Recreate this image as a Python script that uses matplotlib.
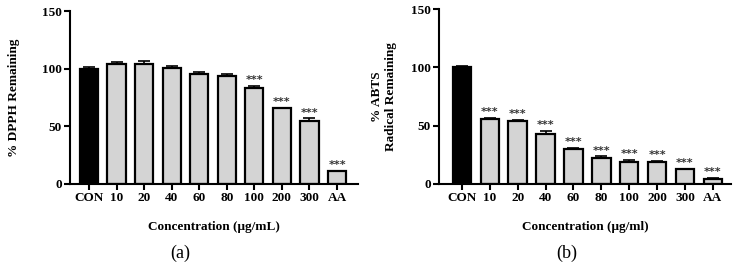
import matplotlib
matplotlib.use('Agg')
import matplotlib.pyplot as plt
import numpy as np

plt.rcParams['font.family'] = ['Liberation Serif', 'DejaVu Serif']

cats = ['CON', '10', '20', '40', '60', '80', '100', '200', '300', 'AA']

dpph = [100, 104, 104, 100.5, 95, 93.5, 83, 65.5, 55, 11]
dpph_err = [1.5, 2, 2.5, 1.5, 2, 1.5, 2, 0.8, 2, 0.6]
dpph_sig = ['', '', '', '', '', '', '***', '***', '***', '***']

abts = [100, 55.5, 54.3, 42.8, 30, 22.3, 19, 18.6, 12.6, 4.6]
abts_err = [1.5, 1, 0.8, 3, 1, 1.3, 1.8, 1.5, 0.6, 0.6]
abts_sig = ['', '***', '***', '***', '***', '***', '***', '***', '***', '***']

fig = plt.figure(figsize=(7.39, 2.67), dpi=100)
ax1 = fig.add_axes([70/739, 83/267, 288/739, 173/267])
ax2 = fig.add_axes([439/739, 83/267, 292/739, 175/267])


def panel(ax, vals, err, sig, ylab, xlab, xlim, ylpad):
    x = np.arange(len(cats))
    colors = ['black'] + ['#d4d4d4'] * (len(cats) - 1)
    ax.bar(x, vals, width=0.66, color=colors, edgecolor='black', linewidth=1.6, zorder=2)
    ax.errorbar(x, vals, yerr=[np.zeros(len(vals)), err], fmt='none', ecolor='black',
                elinewidth=1.2, capsize=4, capthick=1.2, zorder=1)
    for xi, v, e, s in zip(x, vals, err, sig):
        if s:
            ax.text(xi, v + e + 0.5, s, ha='center', va='bottom', fontsize=8,
                    family='DejaVu Sans', fontweight='bold', color='#333333')
    ax.set_ylim(0, 150)
    ax.set_xlim(*xlim)
    ax.set_yticks([0, 50, 100, 150])
    ax.set_xticks(x)
    ax.set_xticklabels(cats, fontweight='bold', fontsize=9.5)
    for t in ax.get_yticklabels():
        t.set_fontweight('bold')
        t.set_fontsize(9.5)
    ax.spines['top'].set_visible(False)
    ax.spines['right'].set_visible(False)
    ax.spines['left'].set_linewidth(1.5)
    ax.spines['bottom'].set_linewidth(1.5)
    ax.tick_params(width=1.5, length=4, pad=2)
    ax.set_ylabel(ylab, fontweight='bold', fontsize=9.5, labelpad=ylpad)
    ax.set_xlabel(xlab, fontweight='bold', fontsize=9.5, labelpad=12)


panel(ax1, dpph, dpph_err, dpph_sig, '% DPPH Remaining', 'Concentration (μg/mL)', (-0.69, 9.76), 16)
panel(ax2, abts, abts_err, abts_sig, '% ABTS\nRadical Remaining', 'Concentration (μg/ml)', (-0.82, 9.65), 10)

fig.text(180/739, 1 - 253/267, '(a)', ha='center', va='center', fontsize=13)
fig.text(567/739, 1 - 253/267, '(b)', ha='center', va='center', fontsize=13)

fig.savefig('out.png', dpi=100)
